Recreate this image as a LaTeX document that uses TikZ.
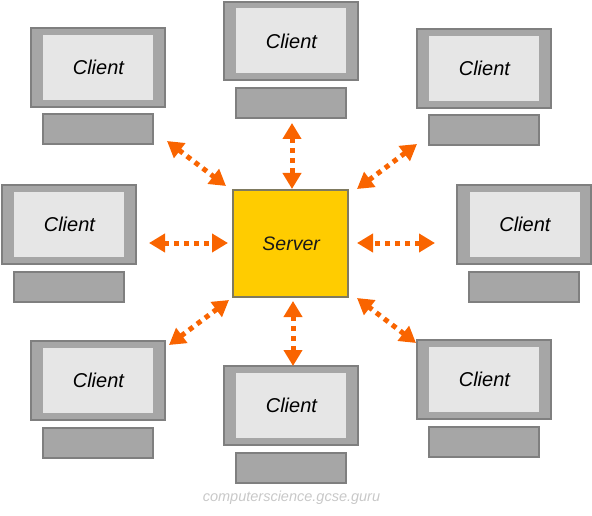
\documentclass[tikz,border=0pt]{standalone}
\usepackage{fontspec}
\setmainfont{Liberation Sans}
\usetikzlibrary{arrows.meta}
\definecolor{edgegray}{HTML}{7F7F7F}
\definecolor{bodygray}{HTML}{A6A6A6}
\definecolor{screengray}{HTML}{E6E6E6}
\definecolor{servergold}{HTML}{FFCC00}
\definecolor{serveredge}{HTML}{7F7A60}
\definecolor{linkorange}{HTML}{F96400}
\definecolor{marktext}{HTML}{C8C8C8}
\tikzset{
  x=1pt,y=-1pt,
  monitor/.style={draw=edgegray,line width=2pt,fill=bodygray,minimum width=134pt,minimum height=78.5pt,inner sep=0pt,outer sep=0pt},
  screen/.style={fill=screengray,minimum width=110pt,minimum height=65pt,inner sep=0pt,outer sep=0pt,font=\itshape\fontsize{20}{24}\selectfont,text=black},
  basebox/.style={draw=edgegray,line width=2pt,fill=bodygray,minimum width=110pt,minimum height=30pt,inner sep=0pt,outer sep=0pt},
  serverbox/.style={draw=serveredge,line width=2pt,fill=servergold,minimum width=115pt,minimum height=106.5pt,inner sep=0pt,font=\itshape\fontsize{19.5}{24}\selectfont,text=black!90},
  link/.style={draw=linkorange,line width=5pt,dash pattern=on 5pt off 5pt,{Triangle[length=16pt,width=18pt,fill=linkorange,sep=0pt]}-{Triangle[length=16pt,width=18pt,fill=linkorange,sep=0pt]}}
}
\newcommand{\clientunit}[3]{%
  \node[monitor] (m#1) at (#2,#3) {};
  \node[screen] (c#1) at (#2+0.5,#3) {\hspace{0.8pt}Client};
  \node[basebox] (b#1) at (#2,#3+62) {};
}
\begin{document}
\begin{tikzpicture}
\useasboundingbox (0,0) rectangle (592,516);
\clientunit{tl}{97.5}{67.5}
\clientunit{t}{290.5}{41}
\clientunit{tr}{483.5}{68.5}
\clientunit{l}{68.5}{224.5}
\clientunit{r}{524}{224.5}
\clientunit{bl}{97.5}{380.5}
\clientunit{b}{290.5}{405.5}
\clientunit{br}{483.5}{379.5}
\node[serverbox] (server) at (290.3,243.5) {\hspace{1.7pt}Server};
\node[font=\itshape\fontsize{14.5}{17}\selectfont,text=marktext] (credit) at (291.5,498) {computerscience.gcse.guru};
\coordinate (atl) at (167,141); \coordinate (stl) at (226,186);
\coordinate (at) at (292,123);  \coordinate (st) at (292,189);
\coordinate (atr) at (417,144); \coordinate (str) at (357,189);
\coordinate (al) at (149,243);  \coordinate (sl) at (228,243);
\coordinate (ar) at (435,243);  \coordinate (sr) at (357,243);
\coordinate (abl) at (169,345); \coordinate (sbl) at (229,300);
\coordinate (ab) at (293,366);  \coordinate (sb) at (293,301);
\coordinate (abr) at (416,343); \coordinate (sbr) at (357,298);
\foreach \p/\q in {atl/stl,at/st,atr/str,al/sl,ar/sr,abl/sbl,ab/sb,abr/sbr}
  \draw[link] (\p) -- (\q);
\end{tikzpicture}
\end{document}
